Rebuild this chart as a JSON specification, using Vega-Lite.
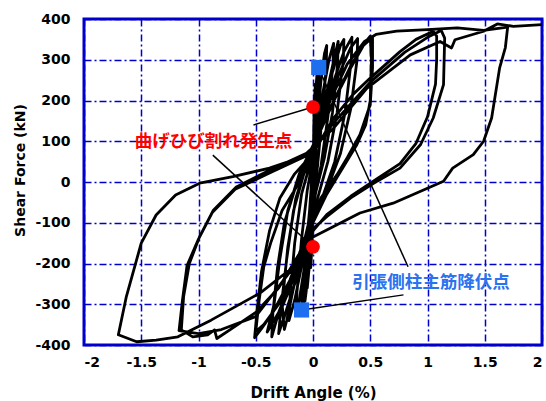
{
  "$schema": "https://vega.github.io/schema/vega-lite/v6.json",
  "width": 458,
  "height": 326,
  "autosize": {"type": "none"},
  "padding": {"left": 84, "top": 19, "right": 4, "bottom": 56},
  "background": "white",
  "config": {
    "font": "DejaVu Sans",
    "view": {"stroke": "#0000cc", "strokeWidth": 3}
  },
  "datasets": {
    "loops": [
      {"x": 0, "y": 0}, {"x": 0.005, "y": 100}, {"x": 0.01, "y": 185}, {"x": 0.02, "y": 240}, {"x": 0.015, "y": 160}, {"x": 0.005, "y": 40}, {"x": -0.005, "y": -80}, {"x": -0.01, "y": -160}, {"x": -0.02, "y": -210}, {"x": -0.01, "y": -120},
      {"x": 0.0, "y": 0}, {"x": 0.01, "y": 120}, {"x": 0.025, "y": 230}, {"x": 0.035, "y": 265}, {"x": 0.025, "y": 180}, {"x": 0.01, "y": 60}, {"x": -0.01, "y": -90}, {"x": -0.03, "y": -200}, {"x": -0.05, "y": -260}, {"x": -0.04, "y": -190}, {"x": -0.02, "y": -80},
      {"x": 0.0, "y": 30}, {"x": 0.015, "y": 140}, {"x": 0.03, "y": 240}, {"x": 0.04, "y": 268}, {"x": 0.035, "y": 200}, {"x": 0.015, "y": 80}, {"x": 0.0, "y": -40}, {"x": -0.03, "y": -180}, {"x": -0.06, "y": -270}, {"x": -0.07, "y": -292}, {"x": -0.055, "y": -210}, {"x": -0.03, "y": -90},
      {"x": -0.005, "y": 40}, {"x": 0.02, "y": 170}, {"x": 0.04, "y": 255}, {"x": 0.05, "y": 275}, {"x": 0.045, "y": 190}, {"x": 0.025, "y": 60}, {"x": 0.0, "y": -70}, {"x": -0.04, "y": -220}, {"x": -0.07, "y": -285}, {"x": -0.09, "y": -305}, {"x": -0.07, "y": -230}, {"x": -0.04, "y": -110},
      {"x": -0.01, "y": 10}, {"x": 0.02, "y": 150}, {"x": 0.04, "y": 250}, {"x": 0.05, "y": 280}, {"x": 0.045, "y": 220}, {"x": 0.03, "y": 120}, {"x": 0.01, "y": 20}, {"x": -0.02, "y": -110}, {"x": -0.05, "y": -220}, {"x": -0.08, "y": -290}, {"x": -0.1, "y": -315},
      {"x": -0.09, "y": -250}, {"x": -0.05, "y": -130}, {"x": -0.01, "y": -10}, {"x": 0.03, "y": 120}, {"x": 0.07, "y": 250}, {"x": 0.1, "y": 315}, {"x": 0.12, "y": 335}, {"x": 0.115, "y": 280}, {"x": 0.08, "y": 160}, {"x": 0.04, "y": 40}, {"x": -0.01, "y": -80}, {"x": -0.07, "y": -200}, {"x": -0.12, "y": -290}, {"x": -0.15, "y": -325},
      {"x": -0.14, "y": -270}, {"x": -0.1, "y": -140}, {"x": -0.05, "y": -20}, {"x": 0.02, "y": 90}, {"x": 0.08, "y": 210}, {"x": 0.14, "y": 300}, {"x": 0.18, "y": 340}, {"x": 0.175, "y": 290}, {"x": 0.13, "y": 160}, {"x": 0.07, "y": 40}, {"x": 0.0, "y": -60}, {"x": -0.08, "y": -180}, {"x": -0.16, "y": -290}, {"x": -0.21, "y": -340},
      {"x": -0.2, "y": -280}, {"x": -0.16, "y": -150}, {"x": -0.1, "y": -30}, {"x": -0.02, "y": 50}, {"x": 0.08, "y": 160}, {"x": 0.17, "y": 270}, {"x": 0.24, "y": 335}, {"x": 0.27, "y": 350}, {"x": 0.265, "y": 300}, {"x": 0.21, "y": 170}, {"x": 0.13, "y": 50}, {"x": 0.04, "y": -40}, {"x": -0.06, "y": -140}, {"x": -0.16, "y": -250}, {"x": -0.25, "y": -330}, {"x": -0.28, "y": -355}, {"x": -0.3, "y": -372},
      {"x": -0.28, "y": -310}, {"x": -0.23, "y": -190}, {"x": -0.17, "y": -70}, {"x": -0.08, "y": 20}, {"x": 0.03, "y": 110}, {"x": 0.12, "y": 220}, {"x": 0.19, "y": 310}, {"x": 0.22, "y": 345}, {"x": 0.215, "y": 290}, {"x": 0.17, "y": 170}, {"x": 0.1, "y": 60}, {"x": 0.02, "y": -30}, {"x": -0.08, "y": -150}, {"x": -0.17, "y": -260}, {"x": -0.23, "y": -340}, {"x": -0.25, "y": -362},
      {"x": -0.27, "y": -300}, {"x": -0.22, "y": -160}, {"x": -0.15, "y": -40}, {"x": -0.06, "y": 40}, {"x": 0.05, "y": 120}, {"x": 0.16, "y": 230}, {"x": 0.27, "y": 320}, {"x": 0.34, "y": 355}, {"x": 0.335, "y": 300}, {"x": 0.28, "y": 170}, {"x": 0.19, "y": 50}, {"x": 0.08, "y": -40}, {"x": -0.05, "y": -130}, {"x": -0.2, "y": -260}, {"x": -0.32, "y": -340}, {"x": -0.36, "y": -380},
      {"x": -0.35, "y": -320}, {"x": -0.31, "y": -210}, {"x": -0.25, "y": -100}, {"x": -0.15, "y": -10}, {"x": -0.03, "y": 60}, {"x": 0.1, "y": 160}, {"x": 0.22, "y": 260}, {"x": 0.33, "y": 330}, {"x": 0.39, "y": 352}, {"x": 0.385, "y": 300}, {"x": 0.33, "y": 180}, {"x": 0.24, "y": 70}, {"x": 0.12, "y": -20}, {"x": -0.02, "y": -110}, {"x": -0.17, "y": -230}, {"x": -0.3, "y": -320}, {"x": -0.4, "y": -368},
      {"x": -0.34, "y": -300}, {"x": -0.29, "y": -190}, {"x": -0.22, "y": -70}, {"x": -0.12, "y": 20}, {"x": 0, "y": 90}, {"x": 0.1, "y": 150}, {"x": 0.2, "y": 210}, {"x": 0.33, "y": 285}, {"x": 0.44, "y": 337}, {"x": 0.5, "y": 358}, {"x": 0.51, "y": 300}, {"x": 0.5, "y": 200}, {"x": 0.46, "y": 140}, {"x": 0.38, "y": 90}, {"x": 0.25, "y": 30}, {"x": 0.12, "y": -30}, {"x": 0, "y": -100}, {"x": -0.15, "y": -210}, {"x": -0.3, "y": -300}, {"x": -0.43, "y": -350}, {"x": -0.5, "y": -367},
      {"x": -0.47, "y": -290}, {"x": -0.43, "y": -208}, {"x": -0.37, "y": -150}, {"x": -0.27, "y": -70}, {"x": -0.15, "y": -15}, {"x": -0.06, "y": 30}, {"x": 0, "y": 85}, {"x": 0.18, "y": 198}, {"x": 0.33, "y": 280}, {"x": 0.44, "y": 335}, {"x": 0.52, "y": 355}, {"x": 0.52, "y": 280}, {"x": 0.5, "y": 190}, {"x": 0.41, "y": 116}, {"x": 0.3, "y": 60}, {"x": 0.21, "y": 18}, {"x": 0.07, "y": -39}, {"x": -0.05, "y": -120}, {"x": -0.2, "y": -240}, {"x": -0.35, "y": -320}, {"x": -0.45, "y": -360}, {"x": -0.51, "y": -382},
      {"x": -0.49, "y": -320}, {"x": -0.45, "y": -220}, {"x": -0.38, "y": -120}, {"x": -0.29, "y": -40}, {"x": -0.16, "y": 20}, {"x": 0, "y": 70}, {"x": 0.18, "y": 157}, {"x": 0.35, "y": 215}, {"x": 0.5, "y": 255}, {"x": 0.76, "y": 320}, {"x": 0.9, "y": 350}, {"x": 1.05, "y": 370}, {"x": 1.08, "y": 358}, {"x": 1.08, "y": 300}, {"x": 1.07, "y": 240}, {"x": 1.0, "y": 160}, {"x": 0.9, "y": 95}, {"x": 0.76, "y": 45}, {"x": 0.56, "y": 8}, {"x": 0.33, "y": -35}, {"x": 0.12, "y": -80}, {"x": 0, "y": -120}, {"x": -0.15, "y": -190}, {"x": -0.3, "y": -260}, {"x": -0.5, "y": -320}, {"x": -0.7, "y": -358}, {"x": -0.84, "y": -384}, {"x": -0.86, "y": -363}, {"x": -0.92, "y": -375}, {"x": -1.05, "y": -380}, {"x": -1.15, "y": -363},
      {"x": -1.13, "y": -281}, {"x": -1.08, "y": -200}, {"x": -0.99, "y": -134}, {"x": -0.87, "y": -69}, {"x": -0.67, "y": -12}, {"x": -0.38, "y": 29}, {"x": 0, "y": 78},
      {"x": 0.18, "y": 145}, {"x": 0.5, "y": 245}, {"x": 0.8, "y": 318}, {"x": 1.0, "y": 355}, {"x": 1.12, "y": 372}, {"x": 1.15, "y": 353}, {"x": 1.14, "y": 239}, {"x": 1.05, "y": 157}, {"x": 0.94, "y": 92}, {"x": 0.76, "y": 34}, {"x": 0.56, "y": 2}, {"x": 0.33, "y": -39}, {"x": 0.12, "y": -85}, {"x": 0, "y": -115}, {"x": -0.2, "y": -220}, {"x": -0.5, "y": -330}, {"x": -0.8, "y": -362}, {"x": -1.0, "y": -372}, {"x": -1.17, "y": -365},
      {"x": -1.14, "y": -290}, {"x": -1.1, "y": -205}, {"x": -1.0, "y": -140}, {"x": -0.88, "y": -75}, {"x": -0.68, "y": -18}, {"x": -0.38, "y": 22}, {"x": 0, "y": 72},
      {"x": 0.15, "y": 200}, {"x": 0.3, "y": 290}, {"x": 0.45, "y": 345}, {"x": 0.55, "y": 362}, {"x": 0.73, "y": 370}, {"x": 1.0, "y": 374}, {"x": 1.26, "y": 378}, {"x": 1.49, "y": 372}, {"x": 1.7, "y": 380},
      {"x": 1.68, "y": 330}, {"x": 1.63, "y": 280}, {"x": 1.56, "y": 157}, {"x": 1.49, "y": 100}, {"x": 1.4, "y": 67}, {"x": 1.22, "y": 34}, {"x": 1.14, "y": 2}, {"x": 0.7, "y": -52}, {"x": 0.41, "y": -76}, {"x": 0.12, "y": -118}, {"x": 0, "y": -135}, {"x": -0.17, "y": -208}, {"x": -0.46, "y": -272}, {"x": -0.89, "y": -339}, {"x": -1.18, "y": -380}, {"x": -1.37, "y": -388}, {"x": -1.54, "y": -392}, {"x": -1.7, "y": -375},
      {"x": -1.63, "y": -281}, {"x": -1.5, "y": -150}, {"x": -1.37, "y": -81}, {"x": -1.2, "y": -32}, {"x": -0.99, "y": -3}, {"x": -0.7, "y": 13}, {"x": -0.38, "y": 34}, {"x": -0.09, "y": 62}, {"x": 0.18, "y": 132}, {"x": 0.47, "y": 230}, {"x": 0.85, "y": 312}, {"x": 1.11, "y": 345}, {"x": 1.21, "y": 329}, {"x": 1.24, "y": 349}, {"x": 1.49, "y": 370}, {"x": 1.61, "y": 388}, {"x": 1.75, "y": 382}, {"x": 2.0, "y": 386}
    ],
    "leaders": [
      {"x": -0.52, "y": 140, "x2": 0, "y2": 184},
      {"x": -0.875, "y": 66, "x2": 0, "y2": -159},
      {"x": 0.79, "y": -277, "x2": -0.1, "y2": -314},
      {"x": 0.83, "y": -208, "x2": 0.06, "y2": 272}
    ],
    "cracks": [{"x": 0, "y": 184}, {"x": 0, "y": -159}],
    "yields": [{"x": 0.05, "y": 281}, {"x": -0.1, "y": -314}],
    "redText": [{"x": -0.87, "y": 99, "label": "曲げひび割れ発生点"}],
    "blueText": [{"x": 1.03, "y": -249, "label": "引張側柱主筋降伏点"}]
  },
  "layer": [
    {
      "data": {"name": "loops"},
      "transform": [{"window": [{"op": "row_number", "as": "i"}]}],
      "mark": {"type": "line", "color": "black", "strokeWidth": 2.8, "strokeJoin": "round", "clip": true},
      "encoding": {
        "x": {
          "field": "x", "type": "quantitative",
          "scale": {"domain": [-2, 2], "nice": false, "zero": false},
          "axis": {
            "values": [-2, -1.5, -1, -0.5, 0, 0.5, 1, 1.5, 2],
            "labelExpr": "'' + datum.value",
            "title": "Drift Angle (%)",
            "titleFont": "DejaVu Sans", "titleFontSize": 15, "titleFontWeight": "bold", "titleColor": "black",
            "titleBaseline": "alphabetic", "titleY": 52,
            "labelFont": "DejaVu Sans", "labelFontSize": 14, "labelFontWeight": "bold", "labelColor": "black", "labelPadding": 10,
            "ticks": false, "domain": false,
            "grid": true, "gridColor": "#0000cc", "gridDash": [7, 3, 2, 3], "gridWidth": 1.5, "gridOpacity": 1
          }
        },
        "y": {
          "field": "y", "type": "quantitative",
          "scale": {"domain": [-400, 400], "nice": false, "zero": false},
          "axis": {
            "values": [-400, -300, -200, -100, 0, 100, 200, 300, 400],
            "labelExpr": "'' + datum.value",
            "title": "Shear Force (kN)",
            "titleFont": "DejaVu Sans", "titleFontSize": 14, "titleFontWeight": "bold", "titleColor": "black",
            "titleAngle": -90, "titleBaseline": "middle", "titleAlign": "center", "titleX": -64, "titleY": 151,
            "labelFont": "DejaVu Sans", "labelFontSize": 14, "labelFontWeight": "bold", "labelColor": "black", "labelPadding": 14,
            "ticks": false, "domain": false,
            "grid": true, "gridColor": "#0000cc", "gridDash": [7, 3, 2, 3], "gridWidth": 1.5, "gridOpacity": 1
          }
        },
        "order": {"field": "i", "type": "quantitative"}
      }
    },
    {
      "data": {"name": "leaders"},
      "mark": {"type": "rule", "color": "black", "strokeWidth": 1.5},
      "encoding": {
        "x": {"field": "x", "type": "quantitative"},
        "y": {"field": "y", "type": "quantitative"},
        "x2": {"field": "x2"},
        "y2": {"field": "y2"}
      }
    },
    {
      "data": {"name": "cracks"},
      "mark": {"type": "point", "shape": "circle", "filled": true, "color": "#ff0000", "size": 190, "opacity": 1},
      "encoding": {
        "x": {"field": "x", "type": "quantitative"},
        "y": {"field": "y", "type": "quantitative"}
      }
    },
    {
      "data": {"name": "yields"},
      "mark": {"type": "point", "shape": "square", "filled": true, "color": "#1e6ef0", "size": 230, "opacity": 1},
      "encoding": {
        "x": {"field": "x", "type": "quantitative"},
        "y": {"field": "y", "type": "quantitative"}
      }
    },
    {
      "data": {"name": "redText"},
      "mark": {"type": "text", "color": "#ff0000", "font": "Noto Sans CJK JP", "fontWeight": "bold", "fontSize": 17.5, "baseline": "middle", "align": "center"},
      "encoding": {
        "x": {"field": "x", "type": "quantitative"},
        "y": {"field": "y", "type": "quantitative"},
        "text": {"field": "label"}
      }
    },
    {
      "data": {"name": "blueText"},
      "mark": {"type": "text", "color": "#2a72ee", "font": "Noto Sans CJK JP", "fontWeight": "bold", "fontSize": 17.5, "baseline": "middle", "align": "center"},
      "encoding": {
        "x": {"field": "x", "type": "quantitative"},
        "y": {"field": "y", "type": "quantitative"},
        "text": {"field": "label"}
      }
    }
  ]
}
